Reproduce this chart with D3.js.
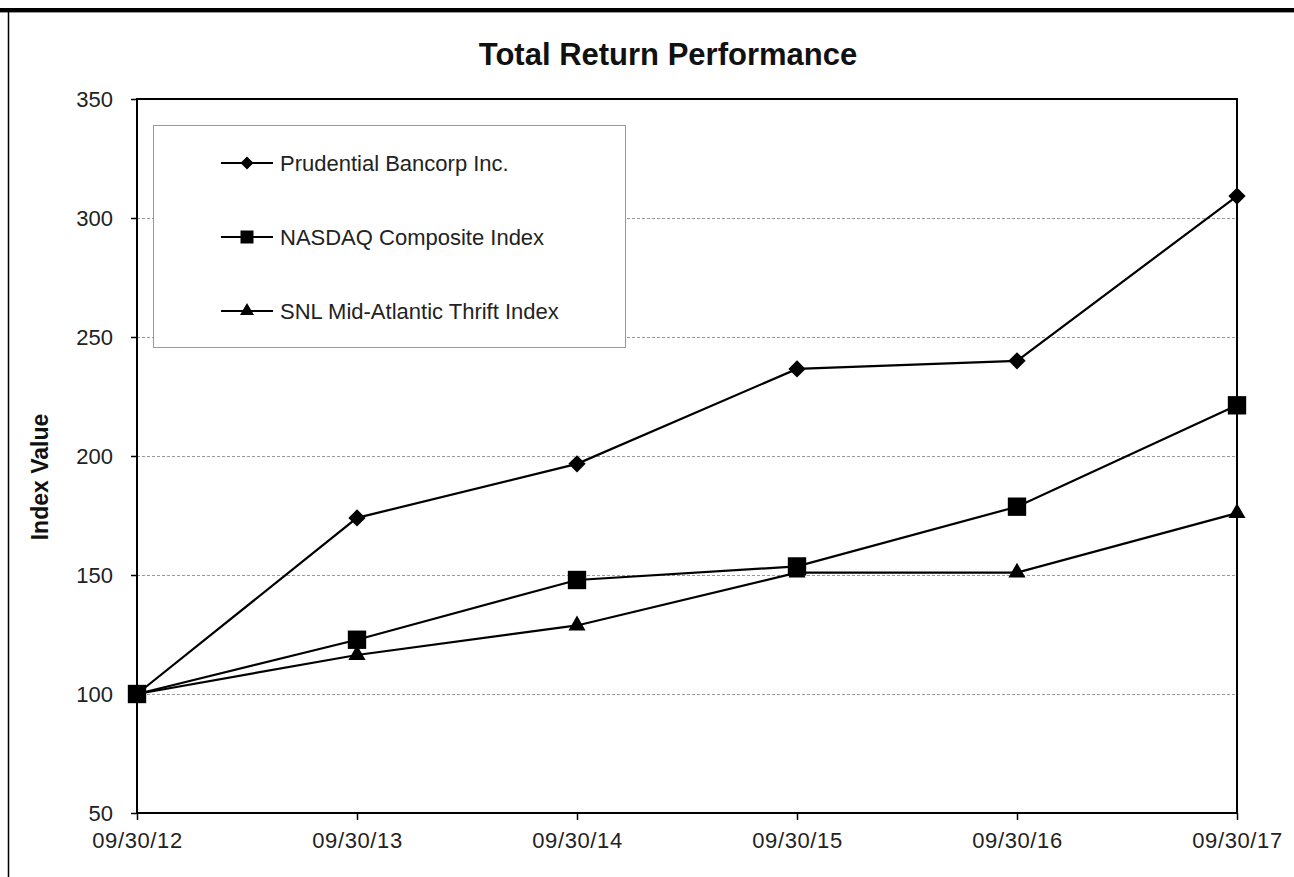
<!DOCTYPE html>
<html>
<head>
<meta charset="utf-8">
<script src="https://cdn.jsdelivr.net/npm/d3@7"></script>
<style>
  body { margin: 0; background: #fff; }
  svg { display: block; font-family: "Liberation Sans", Arial, sans-serif; }
</style>
</head>
<body>
<div id="chart"></div>
<script>
// data
const dates = ["09/30/12", "09/30/13", "09/30/14", "09/30/15", "09/30/16", "09/30/17"];
const prudential = [100, 174, 196.7, 236.6, 240, 309.2];
const nasdaq = [100, 122.8, 147.9, 153.6, 178.7, 221.3];
const snl = [100, 116.4, 128.8, 151, 151, 176];
const seriesNames = ["Prudential Bancorp Inc.", "NASDAQ Composite Index", "SNL Mid-Atlantic Thrift Index"];
const yTicks = [50, 100, 150, 200, 250, 300, 350];

const series = [
  { name: seriesNames[0], values: prudential, symbol: d3.symbolDiamond2, size: 190, legendSize: 108 },
  { name: seriesNames[1], values: nasdaq, symbol: d3.symbolSquare2, size: 430, legendSize: 215 },
  { name: seriesNames[2], values: snl, symbol: d3.symbolTriangle2, size: 210, legendSize: 140 }
];

const width = 1294, height = 877;
const margin = { top: 99, right: 57, bottom: 64, left: 137 };

const svg = d3.select("#chart").append("svg")
  .attr("width", width).attr("height", height);

// outer frame
svg.append("rect").attr("x", 0).attr("y", 8).attr("width", width).attr("height", 4).attr("fill", "#000");
svg.append("line").attr("x1", 0).attr("x2", width).attr("y1", 12.5).attr("y2", 12.5)
  .attr("stroke", "#999").attr("stroke-width", 1);
svg.append("line").attr("x1", 8.5).attr("x2", 8.5).attr("y1", 12).attr("y2", height)
  .attr("stroke", "#000").attr("stroke-width", 1.5);

const x = d3.scalePoint().domain(dates).range([margin.left, width - margin.right]);
const y = d3.scaleLinear().domain([50, 350]).range([height - margin.bottom, margin.top]);

// grid
svg.append("g").selectAll("line")
  .data(yTicks.filter(t => t > 50 && t < 350))
  .join("line")
  .attr("x1", margin.left).attr("x2", width - margin.right)
  .attr("y1", d => Math.round(y(d)) + 0.5).attr("y2", d => Math.round(y(d)) + 0.5)
  .attr("stroke", "#9a9a9a").attr("stroke-width", 1).attr("stroke-dasharray", "3,2");

// axes
const yAxis = svg.append("g")
  .attr("transform", `translate(${margin.left},0)`)
  .call(d3.axisLeft(y).tickValues(yTicks).tickSize(6).tickPadding(18));
const xAxis = svg.append("g")
  .attr("transform", `translate(0,${height - margin.bottom})`)
  .call(d3.axisBottom(x).tickSize(7).tickPadding(12));

[yAxis, xAxis].forEach(a => {
  a.attr("font-size", null).attr("font-family", null);
  a.select(".domain").remove();
  a.selectAll(".tick line").attr("stroke", "#000").attr("stroke-width", 1.5);
  a.selectAll("text").style("font-size", "22px").attr("fill", "#222");
});
yAxis.selectAll("text").attr("dy", "0.35em");
xAxis.selectAll("text").style("letter-spacing", "0.6px");

// plot frame
svg.append("rect")
  .attr("x", margin.left).attr("y", margin.top)
  .attr("width", width - margin.left - margin.right)
  .attr("height", height - margin.top - margin.bottom)
  .attr("fill", "none").attr("stroke", "#000").attr("stroke-width", 2);

// legend
const legend = svg.append("g");
legend.append("rect")
  .attr("x", 153.5).attr("y", 125.5).attr("width", 472).attr("height", 222)
  .attr("fill", "#fff").attr("stroke", "#999").attr("stroke-width", 1);

const legendRows = legend.selectAll(".row").data(series).join("g")
  .attr("class", "row")
  .attr("transform", (d, i) => `translate(0,${163 + i * 74})`);
legendRows.append("line").attr("x1", 221).attr("x2", 273).attr("y1", 0).attr("y2", 0)
  .attr("stroke", "#000").attr("stroke-width", 2);
legendRows.append("path")
  .attr("transform", "translate(247,0)")
  .attr("d", d => d3.symbol().type(d.symbol).size(d.legendSize)())
  .attr("fill", "#000");
legendRows.append("text").attr("x", 280).attr("y", 0).attr("dy", "0.35em")
  .style("font-size", "22px").attr("fill", "#222").text(d => d.name);

// lines
const line = d3.line().x((d, i) => x(dates[i])).y(d => y(d));
const g = svg.append("g");
g.selectAll(".series").data(series).join("path")
  .attr("class", "series")
  .attr("d", d => line(d.values))
  .attr("fill", "none").attr("stroke", "#000").attr("stroke-width", 2.2);

series.forEach(s => {
  g.selectAll(null).data(s.values).join("path")
    .attr("transform", (d, i) => `translate(${x(dates[i])},${y(d)})`)
    .attr("d", d3.symbol().type(s.symbol).size(s.size)())
    .attr("fill", "#000");
});

// title
svg.append("text").attr("x", 668).attr("y", 65).attr("text-anchor", "middle")
  .style("font-size", "31px").attr("font-weight", "bold").attr("fill", "#111")
  .text("Total Return Performance");

// y label
svg.append("text")
  .attr("transform", `translate(48,${477}) rotate(-90)`)
  .attr("text-anchor", "middle")
  .style("font-size", "23px").attr("font-weight", "bold").attr("fill", "#111")
  .text("Index Value");
</script>
</body>
</html>
